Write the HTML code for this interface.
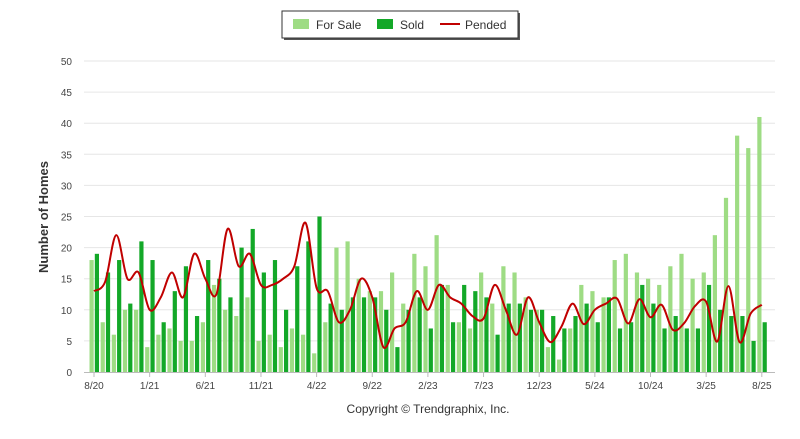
<!DOCTYPE html>
<html><head><meta charset="utf-8"><style>
body{margin:0;background:#fff;font-family:"Liberation Sans",sans-serif}
svg text{font-family:"Liberation Sans",sans-serif}
</style></head><body>
<svg id="chart" width="800" height="434" xmlns="http://www.w3.org/2000/svg">
<g id="grid"></g>
<g id="yticks"></g>
<g id="xticks"></g>
<g id="bars"></g>
<path id="pended" fill="none" stroke="#c00000" stroke-width="2"/>
<line x1="84" y1="372.5" x2="775" y2="372.5" stroke="#bbb"/>
<text x="48" y="217" transform="rotate(-90 48 217)" text-anchor="middle" font-size="13" font-weight="bold" fill="#333">Number of Homes</text>
<text x="428" y="413" text-anchor="middle" font-size="12" fill="#333">Copyright © Trendgraphix, Inc.</text>
<g>
<rect x="284" y="13" width="236" height="27" fill="#555"/>
<rect x="282" y="11" width="236" height="27" fill="#fff" stroke="#333"/>
<rect x="293" y="19" width="16" height="10" fill="#9edc84"/>
<text x="316" y="29" font-size="12" fill="#333">For Sale</text>
<rect x="377" y="19" width="16" height="10" fill="#13a828"/>
<text x="400" y="29" font-size="12" fill="#333">Sold</text>
<line x1="440" y1="24" x2="460" y2="24" stroke="#c00000" stroke-width="2"/>
<text x="465" y="29" font-size="12" fill="#333">Pended</text>
</g>
</svg>
<script>
const forSale=[18,8,6,10,10,4,6,7,5,5,8,14,10,9,12,5,6,4,7,6,3,8,20,21,15,13,13,16,11,19,17,22,14,8,7,16,11,17,16,12,10,4,2,7,14,13,12,18,19,16,15,14,17,19,15,16,22,28,38,36,41];
const sold=[19,16,18,11,21,18,8,13,17,9,18,15,12,20,23,16,18,10,17,21,25,11,10,12,12,12,10,4,10,12,7,14,8,14,13,12,6,11,11,10,10,9,7,9,11,8,12,7,8,14,11,7,9,7,7,14,10,9,9,5,8];
const pended=[13,14.5,22,15,16,10,12,16,12,19,15,12.5,23,17,19,14,14,15,17,24,13.5,13,8,10,15,12,4,7,8,13,10,14,12,11,9,8.6,14,10,6,12,8,4.8,7.3,11,7.7,10,11,11.8,7.8,11.7,8.8,10.8,6.8,7.8,10.6,11.3,4.9,13.8,4.8,9.4,10.8];
const xLabels=["8/20","1/21","6/21","11/21","4/22","9/22","2/23","7/23","12/23","5/24","10/24","3/25","8/25"];
const yTicks=[0,5,10,15,20,25,30,35,40,45,50];
const NS="http://www.w3.org/2000/svg";
const X0=94,DX=11.13,Y0=372,SY=6.22;
const xs=i=>X0+i*DX, ys=v=>Y0-v*SY;
function mk(t,a,p){const e=document.createElementNS(NS,t);for(const k in a)e.setAttribute(k,a[k]);p.appendChild(e);return e;}
const grid=document.getElementById('grid'),yt=document.getElementById('yticks'),xt=document.getElementById('xticks'),bars=document.getElementById('bars');
yTicks.forEach(v=>{
 if(v>0){const l=mk('line',{x1:84,x2:775,y1:ys(v),y2:ys(v),stroke:'#e6e6e6'},grid);
 
 }
 const t=mk('text',{x:72,y:ys(v)+4,'text-anchor':'end','font-size':10,fill:'#444'},yt);t.textContent=v;
 
 
});
xLabels.forEach((s,k)=>{
 const t=mk('text',{x:xs(k*5),y:389,'text-anchor':'middle','font-size':10,fill:'#444'},xt);t.textContent=s;
 
 
 const l=mk('line',{x1:xs(k*5),x2:xs(k*5),y1:372,y2:377,stroke:'#bbb'},xt);
 
 
});
forSale.forEach((v,i)=>{
 const r=mk('rect',{x:xs(i)-4.5,y:ys(v),width:4.2,height:v*SY,fill:'#9edc84'},bars);
 
 
});
sold.forEach((v,i)=>{
 const r=mk('rect',{x:xs(i)+0.8,y:ys(v),width:4.2,height:v*SY,fill:'#13a828'},bars);
 
 
});
const pts=pended.map((v,i)=>[xs(i),ys(v)]);
let d='M'+pts[0][0]+','+pts[0][1];
for(let i=0;i<pts.length-1;i++){
 const p0=pts[Math.max(0,i-1)],p1=pts[i],p2=pts[i+1],p3=pts[Math.min(pts.length-1,i+2)];
 const c1=[p1[0]+(p2[0]-p0[0])/6,p1[1]+(p2[1]-p0[1])/6],c2=[p2[0]-(p3[0]-p1[0])/6,p2[1]-(p3[1]-p1[1])/6];
 d+=' C'+c1+' '+c2+' '+p2;
}
document.getElementById('pended').setAttribute('d',d);
</script>
</body></html>
